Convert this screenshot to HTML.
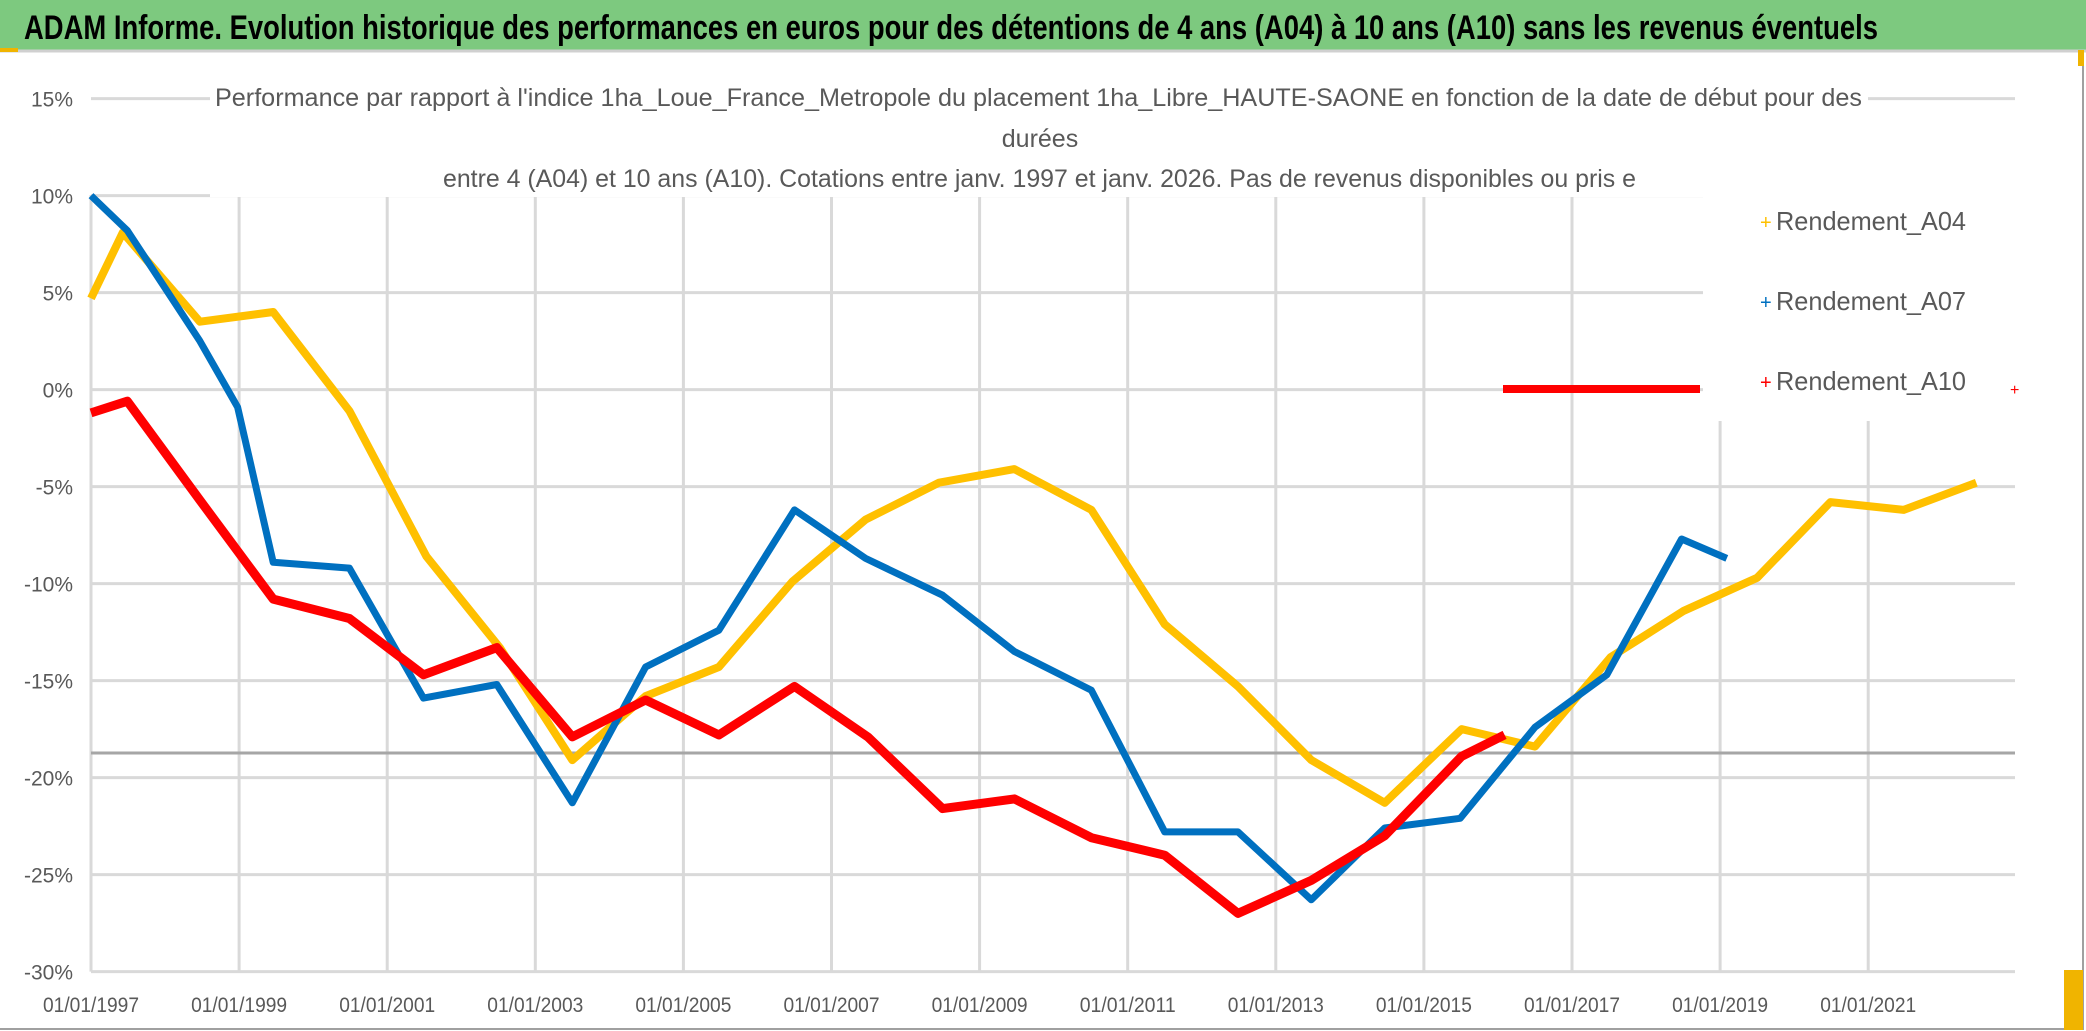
<!DOCTYPE html>
<html><head><meta charset="utf-8"><style>
html,body{margin:0;padding:0;background:#fff;}
svg{display:block;font-family:"Liberation Sans",sans-serif;}
</style></head><body>
<svg id="chart" width="2086" height="1031" viewBox="0 0 2086 1031" xmlns="http://www.w3.org/2000/svg">
<rect x="0" y="0" width="2086" height="1031" fill="#fff"/>
<rect x="0" y="0" width="2086" height="50" fill="#7DC97F"/>
<line x1="0" y1="51" x2="2086" y2="51" stroke="#d0d0d0" stroke-width="3"/>
<rect x="0" y="48" width="18" height="4" fill="#F0B400"/>
<text x="24" y="39" font-size="34" font-weight="bold" fill="#000" textLength="1854" lengthAdjust="spacingAndGlyphs">ADAM Informe. Evolution historique des performances en euros pour des détentions de 4 ans (A04) à 10 ans (A10) sans les revenus éventuels</text>
<g id="grid"></g>
<g id="axes"></g>
<rect x="210" y="80" width="1658" height="117" fill="#fff"/>
<rect x="1868" y="105" width="147" height="92" fill="#fff"/>
<rect x="1703" y="197" width="312" height="224" fill="#fff"/>
<g fill="#595959" font-size="25">
<text x="215" y="106" textLength="1647" lengthAdjust="spacingAndGlyphs">Performance par rapport à l'indice 1ha_Loue_France_Metropole  du placement 1ha_Libre_HAUTE-SAONE en fonction de la date de début pour des</text>
<text x="1040" y="147" text-anchor="middle">durées</text>
<text x="443" y="187" textLength="1193" lengthAdjust="spacingAndGlyphs">entre 4 (A04) et 10 ans (A10). Cotations entre janv. 1997 et janv. 2026. Pas de revenus disponibles ou pris e</text>
</g>
<g id="series"></g>
<g font-size="26" fill="#595959">
<g><text x="1760" y="229" fill="#FFC000" font-size="20">+</text><text x="1776" y="230" textLength="190" lengthAdjust="spacingAndGlyphs">Rendement_A04</text></g>
<g><text x="1760" y="309" fill="#0070C0" font-size="20">+</text><text x="1776" y="310" textLength="190" lengthAdjust="spacingAndGlyphs">Rendement_A07</text></g>
<g><line x1="1503" y1="389" x2="1700" y2="389" stroke="#FF0000" stroke-width="8"/><text x="1760" y="389" fill="#FF0000" font-size="20">+</text><text x="1776" y="390" textLength="190" lengthAdjust="spacingAndGlyphs">Rendement_A10</text><text x="2010" y="395" fill="#FF0000" font-size="16">+</text></g>
</g>
<line x1="2083" y1="55" x2="2083" y2="1030" stroke="#a0a0a0" stroke-width="2"/>
<line x1="0" y1="1029" x2="2083" y2="1029" stroke="#a0a0a0" stroke-width="2"/>
<rect x="2064" y="970" width="19" height="60" fill="#F0B400"/>
<rect x="2078" y="50" width="6" height="16" fill="#F0B400"/>
<script>
const yTicks=[15,10,5,0,-5,-10,-15,-20,-25,-30];
const xTickYears=[1997,1999,2001,2003,2005,2007,2009,2011,2013,2015,2017,2019,2021];
const a04Dates=[1997.0,1997.43,1998.47,1999.46,2000.49,2001.53,2002.52,2003.5,2004.49,2005.48,2006.47,2007.46,2008.45,2009.47,2010.51,2011.5,2012.49,2013.48,2014.47,2015.51,2016.5,2017.52,2018.51,2019.5,2020.49,2021.48,2022.46];
const a04Values=[4.7,8.1,3.5,4.0,-1.1,-8.6,-13.3,-19.1,-15.8,-14.3,-9.9,-6.7,-4.8,-4.1,-6.2,-12.1,-15.3,-19.1,-21.3,-17.5,-18.4,-13.8,-11.4,-9.7,-5.8,-6.2,-4.8];
const a07Dates=[1997.0,1997.49,1998.47,1998.98,1999.46,2000.49,2001.49,2002.48,2003.5,2004.49,2005.48,2006.5,2007.46,2008.5,2009.47,2010.51,2011.5,2012.49,2013.48,2014.47,2015.49,2016.5,2017.47,2018.48,2019.09];
const a07Values=[10.0,8.2,2.5,-0.9,-8.9,-9.2,-15.9,-15.2,-21.3,-14.3,-12.4,-6.2,-8.7,-10.6,-13.5,-15.5,-22.8,-22.8,-26.3,-22.6,-22.1,-17.4,-14.7,-7.7,-8.7];
const a10Dates=[1997.0,1997.49,1998.47,1999.46,2000.49,2001.49,2002.48,2003.5,2004.49,2005.48,2006.5,2007.49,2008.5,2009.47,2010.51,2011.5,2012.49,2013.48,2014.47,2015.51,2016.09];
const a10Values=[-1.2,-0.6,-5.7,-10.8,-11.8,-14.7,-13.3,-17.9,-16.0,-17.8,-15.3,-17.9,-21.6,-21.1,-23.1,-24.0,-27.0,-25.3,-23.0,-18.9,-17.8];
const NS="http://www.w3.org/2000/svg";
const X0=91,Y0=98.6,PXY=74.05,PXP=19.4;
function xs(y){return X0+(y-1997)*PXY;}
function ys(v){return Y0+(15-v)*PXP;}
function mk(t,a,p){const e=document.createElementNS(NS,t);for(const k in a)e.setAttribute(k,a[k]);p.appendChild(e);return e;}
const grid=document.getElementById('grid'),axes=document.getElementById('axes'),ser=document.getElementById('series');
yTicks.forEach(v=>{
  const l=mk('line',{x1:X0,x2:2015,y1:ys(v),y2:ys(v),stroke:'#d9d9d9','stroke-width':3},grid);
  
  
  const t=mk('text',{x:73,y:ys(v)+8,'text-anchor':'end','font-size':21,fill:'#595959'},axes);
  t.textContent=v+'%';
  
  
});
xTickYears.forEach(yr=>{
  const l=mk('line',{x1:xs(yr),x2:xs(yr),y1:195,y2:ys(-30),stroke:'#d9d9d9','stroke-width':3},grid);
  
  
  const t=mk('text',{x:xs(yr),y:1012,'text-anchor':'middle','font-size':21,fill:'#595959',textLength:96,lengthAdjust:'spacingAndGlyphs'},axes);
  t.textContent='01/01/'+yr;
  
  
});
const extra=mk('line',{x1:X0,x2:2015,y1:753,y2:753,stroke:'#a6a6a6','stroke-width':3},grid);


function draw(d,v,c,w,name){
  const pts=d.map((x,i)=>xs(x).toFixed(1)+','+ys(v[i]).toFixed(1)).join(' ');
  const p=mk('polyline',{points:pts,fill:'none',stroke:c,'stroke-width':w,'stroke-linejoin':'round'},ser);
  
  
}
draw(a04Dates,a04Values,'#FFC000',8,'line-a04');
draw(a07Dates,a07Values,'#0070C0',7,'line-a07');
draw(a10Dates,a10Values,'#FF0000',9,'line-a10');
</script>
</svg>
</body></html>
